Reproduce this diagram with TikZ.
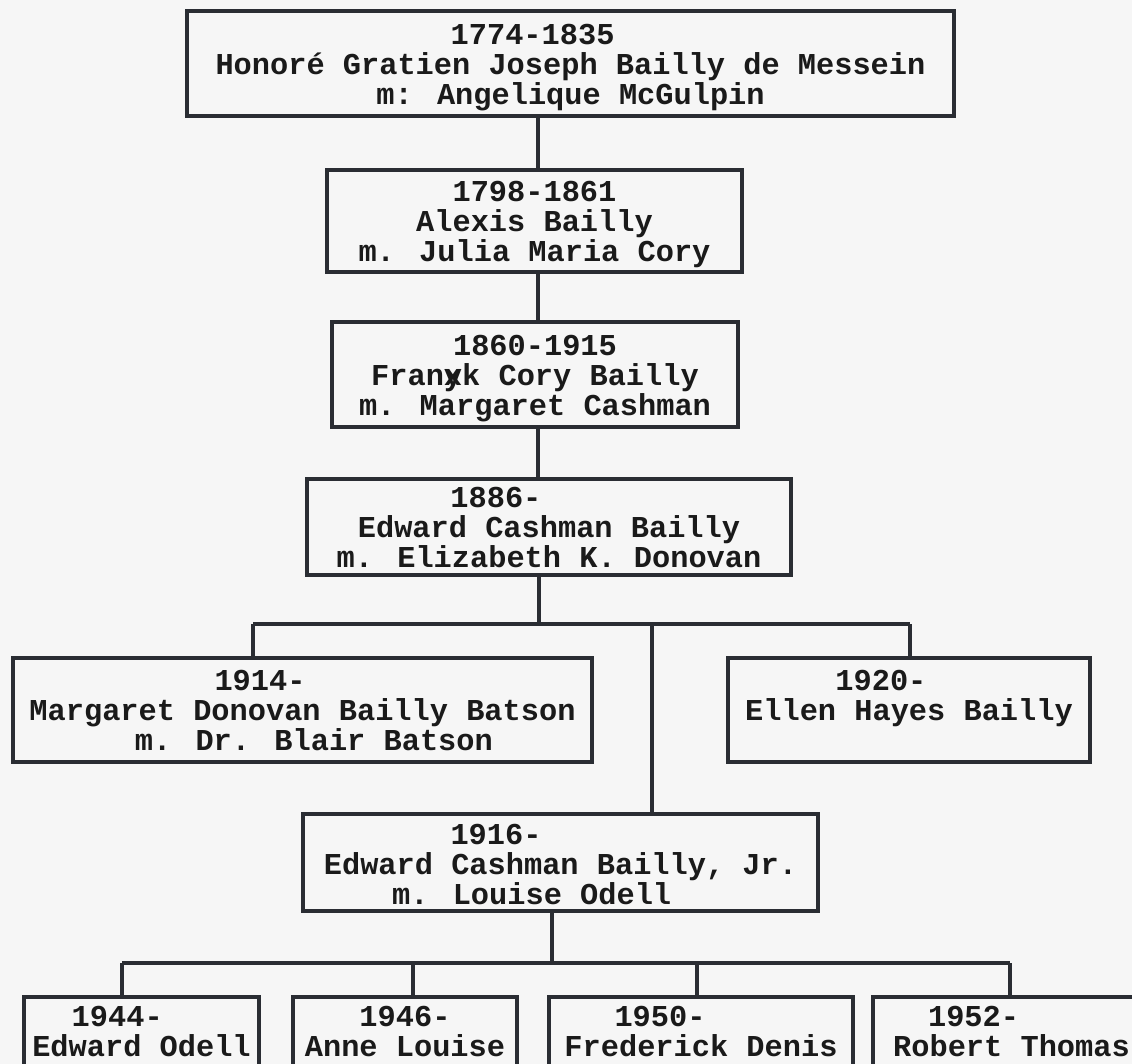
\documentclass[tikz,border=0pt]{standalone}
\usepackage{fontspec}
\setmainfont{Liberation Mono}
\definecolor{linec}{HTML}{2A2D33}
\definecolor{textc}{HTML}{1A1A1A}
\definecolor{paper}{HTML}{F6F6F6}
\newcommand\tyfont{\fontsize{22.75pt}{22.5pt}\selectfont\bfseries}
\newcommand\lowr{\rule{0pt}{21pt}}
\tikzset{
  box/.style={draw=linec, line width=2.6pt, inner sep=0pt, outer sep=0pt,
              align=center, font=\tyfont, text=textc},
  conn/.style={draw=linec, line width=2.4pt},
}
\begin{document}
\begin{tikzpicture}[x=0.75pt,y=-0.75pt]
\useasboundingbox (0,0) rectangle (1132,1064);
\fill[paper] (0,0) rectangle (1132,1064);
\clip (0,0) rectangle (1132,1064);

% generations
\node[box, minimum width=767*0.75pt, minimum height=105*0.75pt] (b1) at (570.5,63.5)
  {\lowr 1774-1835\kern2.5em\\Honoré Gratien Joseph Bailly de Messein\\m: Angelique McGulpin};
\node[box, minimum width=415*0.75pt, minimum height=102*0.75pt] (b2) at (534.5,221)
  {\lowr 1798-1861\\Alexis Bailly\\m. Julia Maria Cory};
\node[box, minimum width=406*0.75pt, minimum height=105*0.75pt] (b3) at (535,374.5)
  {\lowr 1860-1915\\Fran\rlap{y}xk Cory Bailly\\m. Margaret Cashman};
\node[box, minimum width=484*0.75pt, minimum height=96*0.75pt] (b4) at (549,527)
  {1886-\kern3.5em\\Edward Cashman Bailly\\m. Elizabeth K. Donovan};
\node[box, minimum width=579*0.75pt, minimum height=104*0.75pt] (b5) at (302.5,710)
  {1914-\kern2.8em\\Margaret Donovan Bailly Batson\\\kern0.75em m. Dr. Blair Batson};
\node[box, minimum width=362*0.75pt, minimum height=104*0.75pt] (b6) at (909,710)
  {1920-\kern1.85em\\Ellen Hayes Bailly\\\mbox{}};
\node[box, minimum width=515*0.75pt, minimum height=97*0.75pt] (b7) at (560.5,862.5)
  {\rule{0pt}{18pt}1916-\kern4.25em\\Edward Cashman Bailly, Jr.\\m. Louise Odell\kern1.9em};

% grandchildren (cut off by the page edge)
\node[box, minimum width=235*0.75pt, minimum height=98*0.75pt] (cA) at (141.5,1046)
  {1944-\kern1.6em\\Edward Odell\\\mbox{}};
\node[box, minimum width=224*0.75pt, minimum height=98*0.75pt] (cB) at (405,1046)
  {1946-\\Anne Louise\\\mbox{}};
\node[box, minimum width=304*0.75pt, minimum height=98*0.75pt] (cC) at (701,1046)
  {1950-\kern2.7em\\Frederick Denis\\\mbox{}};
\node[box, minimum width=277*0.75pt, minimum height=98*0.75pt] (cD) at (1011.5,1046)
  {1952-\kern2.5em\\Robert Thomas\\\mbox{}};

% connectors
\coordinate (v1) at (538,0);
\draw[conn] (b1.south -| v1) -- (b2.north -| v1);
\draw[conn] (b2.south -| v1) -- (b3.north -| v1);
\draw[conn] (b3.south -| v1) -- (b4.north -| v1);

\coordinate (h1) at (539,624);
\coordinate (h1L) at (253,624);
\coordinate (h1R) at (910,624);
\coordinate (h1M) at (652,624);
\draw[conn] (b4.south -| h1) -- (h1);
\draw[conn] (h1L) -- (h1R);
\draw[conn] (h1L) -- (h1L |- b5.north);
\draw[conn] (h1R) -- (h1R |- b6.north);
\draw[conn] (h1M) -- (h1M |- b7.north);

\coordinate (h2) at (552,963);
\coordinate (h2L) at (122,963);
\coordinate (h2B) at (413,963);
\coordinate (h2C) at (697,963);
\coordinate (h2R) at (1010,963);
\draw[conn] (b7.south -| h2) -- (h2);
\draw[conn] (h2L) -- (h2R);
\draw[conn] (h2L) -- (h2L |- cA.north);
\draw[conn] (h2B) -- (h2B |- cB.north);
\draw[conn] (h2C) -- (h2C |- cC.north);
\draw[conn] (h2R) -- (h2R |- cD.north);
\end{tikzpicture}
\end{document}
